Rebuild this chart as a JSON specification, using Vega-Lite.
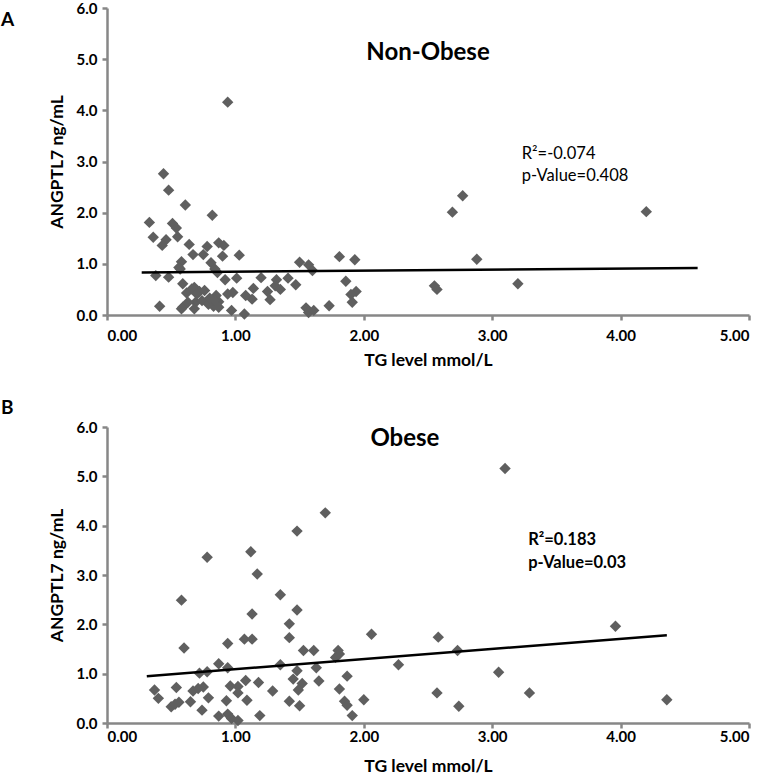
{
  "$schema": "https://vega.github.io/schema/vega-lite/v6.json",
  "background": "white",
  "padding": {"left": 0, "top": 1, "right": 0, "bottom": 0},
  "spacing": 30,
  "config": {
    "view": {"stroke": null},
    "font": "Lato",
    "axis": {
      "grid": false,
      "domainColor": "#878787",
      "domainWidth": 2.5,
      "tickColor": "#878787",
      "tickWidth": 2.5,
      "tickSize": 5,
      "labelFont": "Lato",
      "labelFontSize": 15,
      "labelFontWeight": "bold",
      "labelColor": "black",
      "titleFont": "Lato",
      "titleFontSize": 17.5,
      "titleFontWeight": "bold",
      "titleColor": "black"
    }
  },
  "datasets": {
    "nonobese": [
      {"tg":0.94,"angptl7":4.16},{"tg":0.44,"angptl7":2.76},{"tg":0.48,"angptl7":2.44},{"tg":0.61,"angptl7":2.15},{"tg":0.82,"angptl7":1.95},
      {"tg":0.33,"angptl7":1.81},{"tg":0.51,"angptl7":1.79},{"tg":0.54,"angptl7":1.70},{"tg":0.36,"angptl7":1.52},{"tg":0.46,"angptl7":1.47},
      {"tg":0.55,"angptl7":1.53},{"tg":0.43,"angptl7":1.36},{"tg":0.64,"angptl7":1.38},{"tg":0.78,"angptl7":1.34},{"tg":0.87,"angptl7":1.41},
      {"tg":0.91,"angptl7":1.36},{"tg":0.67,"angptl7":1.18},{"tg":0.75,"angptl7":1.18},{"tg":0.90,"angptl7":1.15},{"tg":1.03,"angptl7":1.17},
      {"tg":0.58,"angptl7":1.04},{"tg":0.81,"angptl7":1.02},{"tg":0.56,"angptl7":0.93},{"tg":0.38,"angptl7":0.77},{"tg":0.48,"angptl7":0.74},
      {"tg":0.86,"angptl7":0.83},{"tg":0.92,"angptl7":0.69},{"tg":1.01,"angptl7":0.72},{"tg":1.20,"angptl7":0.73},{"tg":1.14,"angptl7":0.52},
      {"tg":0.59,"angptl7":0.61},{"tg":0.68,"angptl7":0.54},{"tg":0.72,"angptl7":0.46},{"tg":0.62,"angptl7":0.43},{"tg":0.94,"angptl7":0.41},
      {"tg":0.98,"angptl7":0.44},{"tg":1.13,"angptl7":0.31},{"tg":1.25,"angptl7":0.46},{"tg":1.27,"angptl7":0.30},{"tg":1.32,"angptl7":0.69},
      {"tg":1.31,"angptl7":0.57},{"tg":1.35,"angptl7":0.50},{"tg":1.41,"angptl7":0.72},{"tg":1.47,"angptl7":0.59},{"tg":1.50,"angptl7":1.03},
      {"tg":1.57,"angptl7":0.98},{"tg":1.60,"angptl7":0.87},{"tg":0.41,"angptl7":0.17},{"tg":0.59,"angptl7":0.15},{"tg":0.69,"angptl7":0.25},
      {"tg":0.83,"angptl7":0.17},{"tg":0.87,"angptl7":0.26},{"tg":0.97,"angptl7":0.09},{"tg":1.07,"angptl7":0.02},{"tg":1.08,"angptl7":0.38},
      {"tg":1.55,"angptl7":0.14},{"tg":1.57,"angptl7":0.05},{"tg":1.61,"angptl7":0.09},{"tg":1.73,"angptl7":0.18},{"tg":1.81,"angptl7":1.14},
      {"tg":1.93,"angptl7":1.08},{"tg":1.86,"angptl7":0.66},{"tg":1.94,"angptl7":0.46},{"tg":1.90,"angptl7":0.40},{"tg":1.91,"angptl7":0.25},
      {"tg":0.66,"angptl7":0.51},{"tg":0.70,"angptl7":0.41},{"tg":0.76,"angptl7":0.48},{"tg":0.85,"angptl7":0.38},{"tg":0.63,"angptl7":0.25},
      {"tg":0.74,"angptl7":0.28},{"tg":0.68,"angptl7":0.12},{"tg":0.58,"angptl7":0.12},{"tg":0.79,"angptl7":0.21},{"tg":0.84,"angptl7":0.28},
      {"tg":0.87,"angptl7":0.15},{"tg":0.57,"angptl7":0.90},{"tg":0.84,"angptl7":0.90},{"tg":0.80,"angptl7":0.33},{"tg":2.77,"angptl7":2.33},
      {"tg":2.69,"angptl7":2.01},{"tg":4.20,"angptl7":2.02},{"tg":2.88,"angptl7":1.09},{"tg":2.55,"angptl7":0.57},{"tg":2.57,"angptl7":0.50},
      {"tg":3.20,"angptl7":0.61}
    ],
    "obese": [
      {"tg":1.70,"angptl7":4.26},{"tg":1.48,"angptl7":3.89},{"tg":0.78,"angptl7":3.36},{"tg":1.12,"angptl7":3.47},{"tg":1.17,"angptl7":3.02},
      {"tg":1.35,"angptl7":2.60},{"tg":0.58,"angptl7":2.49},{"tg":1.13,"angptl7":2.21},{"tg":1.48,"angptl7":2.29},{"tg":1.42,"angptl7":2.01},
      {"tg":0.60,"angptl7":1.52},{"tg":0.94,"angptl7":1.61},{"tg":1.07,"angptl7":1.70},{"tg":1.13,"angptl7":1.70},{"tg":1.42,"angptl7":1.73},
      {"tg":1.53,"angptl7":1.47},{"tg":1.61,"angptl7":1.47},{"tg":2.06,"angptl7":1.80},{"tg":1.80,"angptl7":1.47},{"tg":1.81,"angptl7":1.40},
      {"tg":1.78,"angptl7":1.33},{"tg":0.87,"angptl7":1.20},{"tg":1.35,"angptl7":1.18},{"tg":0.94,"angptl7":1.12},{"tg":1.63,"angptl7":1.12},
      {"tg":1.48,"angptl7":1.06},{"tg":0.72,"angptl7":1.01},{"tg":0.78,"angptl7":1.04},{"tg":1.87,"angptl7":0.95},{"tg":1.45,"angptl7":0.89},
      {"tg":1.52,"angptl7":0.80},{"tg":1.49,"angptl7":0.67},{"tg":1.65,"angptl7":0.85},{"tg":0.37,"angptl7":0.67},{"tg":0.40,"angptl7":0.50},
      {"tg":0.54,"angptl7":0.72},{"tg":0.67,"angptl7":0.65},{"tg":0.71,"angptl7":0.70},{"tg":0.75,"angptl7":0.73},{"tg":0.96,"angptl7":0.75},
      {"tg":1.02,"angptl7":0.74},{"tg":1.02,"angptl7":0.61},{"tg":1.08,"angptl7":0.86},{"tg":1.18,"angptl7":0.82},{"tg":1.29,"angptl7":0.65},
      {"tg":1.81,"angptl7":0.69},{"tg":0.79,"angptl7":0.51},{"tg":0.65,"angptl7":0.43},{"tg":0.56,"angptl7":0.42},{"tg":0.50,"angptl7":0.33},
      {"tg":0.53,"angptl7":0.38},{"tg":0.93,"angptl7":0.45},{"tg":1.09,"angptl7":0.46},{"tg":1.42,"angptl7":0.44},{"tg":1.50,"angptl7":0.35},
      {"tg":1.85,"angptl7":0.44},{"tg":1.87,"angptl7":0.36},{"tg":2.00,"angptl7":0.47},{"tg":0.74,"angptl7":0.26},{"tg":0.87,"angptl7":0.14},
      {"tg":0.94,"angptl7":0.18},{"tg":0.97,"angptl7":0.09},{"tg":1.02,"angptl7":0.05},{"tg":1.19,"angptl7":0.15},{"tg":1.91,"angptl7":0.15},
      {"tg":2.27,"angptl7":1.18},{"tg":3.10,"angptl7":5.16},{"tg":3.96,"angptl7":1.96},{"tg":2.58,"angptl7":1.74},{"tg":2.73,"angptl7":1.47},
      {"tg":3.05,"angptl7":1.03},{"tg":2.57,"angptl7":0.61},{"tg":2.74,"angptl7":0.34},{"tg":3.29,"angptl7":0.61},{"tg":4.36,"angptl7":0.47}
    ],
    "fitA": [{"tg":0.27,"angptl7":0.83},{"tg":4.60,"angptl7":0.92}],
    "fitB": [{"tg":0.31,"angptl7":0.95},{"tg":4.36,"angptl7":1.78}]
  },
  "vconcat": [
    {
      "width": 642,
      "height": 307,
      "layer": [
        {
          "data": {"name": "nonobese"},
          "mark": {"type": "point", "shape": "diamond", "filled": true, "size": 130, "color": "#5f5f5f", "opacity": 1},
          "encoding": {
            "x": {"field": "tg", "type": "quantitative", "scale": {"domain": [0, 5], "nice": false},
                  "axis": {"values": [0, 1, 2, 3, 4, 5], "format": ".2f", "title": "TG level mmol/L", "labelPadding": 8, "titlePadding": 8}},
            "y": {"field": "angptl7", "type": "quantitative", "scale": {"domain": [0, 6], "nice": false},
                  "axis": {"values": [0, 1, 2, 3, 4, 5, 6], "format": ".1f", "title": "ANGPTL7 ng/mL", "labelPadding": 5, "titlePadding": 10}}
          }
        },
        {
          "data": {"name": "fitA"},
          "mark": {"type": "line", "color": "black", "strokeWidth": 2.5},
          "encoding": {"x": {"field": "tg", "type": "quantitative"}, "y": {"field": "angptl7", "type": "quantitative"}}
        },
        {
          "data": {"values": [{"tg": 2.5, "angptl7": 5.13, "label": "Non-Obese"}]},
          "mark": {"type": "text", "fontSize": 24, "fontWeight": "bold", "align": "center", "baseline": "middle", "color": "black"},
          "encoding": {"x": {"field": "tg", "type": "quantitative"}, "y": {"field": "angptl7", "type": "quantitative"}, "text": {"field": "label"}}
        },
        {
          "data": {"values": [{"tg": 3.23, "angptl7": 3.14, "label": "R²=-0.074"}, {"tg": 3.23, "angptl7": 2.72, "label": "p-Value=0.408"}]},
          "mark": {"type": "text", "fontSize": 16.5, "fontWeight": "normal", "align": "left", "baseline": "middle", "color": "black"},
          "encoding": {"x": {"field": "tg", "type": "quantitative"}, "y": {"field": "angptl7", "type": "quantitative"}, "text": {"field": "label"}}
        },
        {
          "data": {"values": [{"tg": -0.826, "angptl7": 5.77, "label": "A"}]},
          "mark": {"type": "text", "fontSize": 19, "fontWeight": "bold", "align": "left", "baseline": "middle", "color": "black"},
          "encoding": {"x": {"field": "tg", "type": "quantitative"}, "y": {"field": "angptl7", "type": "quantitative"}, "text": {"field": "label"}}
        }
      ]
    },
    {
      "width": 642,
      "height": 296,
      "layer": [
        {
          "data": {"name": "obese"},
          "mark": {"type": "point", "shape": "diamond", "filled": true, "size": 130, "color": "#5f5f5f", "opacity": 1},
          "encoding": {
            "x": {"field": "tg", "type": "quantitative", "scale": {"domain": [0, 5], "nice": false},
                  "axis": {"values": [0, 1, 2, 3, 4, 5], "format": ".2f", "title": "TG level mmol/L", "labelPadding": 1, "titlePadding": 13}},
            "y": {"field": "angptl7", "type": "quantitative", "scale": {"domain": [0, 6], "nice": false},
                  "axis": {"values": [0, 1, 2, 3, 4, 5, 6], "format": ".1f", "title": "ANGPTL7 ng/mL", "labelPadding": 5, "titlePadding": 10}}
          }
        },
        {
          "data": {"name": "fitB"},
          "mark": {"type": "line", "color": "black", "strokeWidth": 2.5},
          "encoding": {"x": {"field": "tg", "type": "quantitative"}, "y": {"field": "angptl7", "type": "quantitative"}}
        },
        {
          "data": {"values": [{"tg": 2.32, "angptl7": 5.75, "label": "Obese"}]},
          "mark": {"type": "text", "fontSize": 24, "fontWeight": "bold", "align": "center", "baseline": "middle", "color": "black"},
          "encoding": {"x": {"field": "tg", "type": "quantitative"}, "y": {"field": "angptl7", "type": "quantitative"}, "text": {"field": "label"}}
        },
        {
          "data": {"values": [{"tg": 3.28, "angptl7": 3.70, "label": "R²=0.183"}, {"tg": 3.28, "angptl7": 3.25, "label": "p-Value=0.03"}]},
          "mark": {"type": "text", "fontSize": 16.5, "fontWeight": "bold", "align": "left", "baseline": "middle", "color": "black"},
          "encoding": {"x": {"field": "tg", "type": "quantitative"}, "y": {"field": "angptl7", "type": "quantitative"}, "text": {"field": "label"}}
        },
        {
          "data": {"values": [{"tg": -0.826, "angptl7": 6.38, "label": "B"}]},
          "mark": {"type": "text", "fontSize": 19, "fontWeight": "bold", "align": "left", "baseline": "middle", "color": "black"},
          "encoding": {"x": {"field": "tg", "type": "quantitative"}, "y": {"field": "angptl7", "type": "quantitative"}, "text": {"field": "label"}}
        }
      ]
    }
  ]
}
